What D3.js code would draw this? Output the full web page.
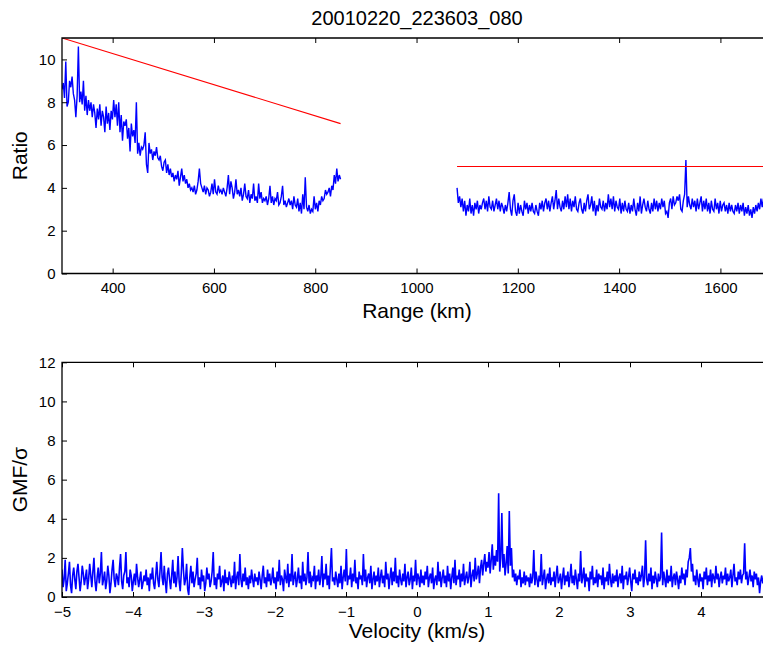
<!DOCTYPE html>
<html>
<head>
<meta charset="utf-8">
<script src="https://cdn.jsdelivr.net/npm/d3@7"></script>
<style>
  html, body { margin: 0; padding: 0; background: #fff; }
  svg { display: block; font-family: "Liberation Sans", Arial, Helvetica, sans-serif; }
</style>
</head>
<body>
<svg id="fig" width="763" height="648"></svg>
<script>
// ---- data ---------------------------------------------------------------
const chartTitle = "20010220_223603_080";

const rangeTicks = [400, 600, 800, 1000, 1200, 1400, 1600];
const ratioTicks = [0, 2, 4, 6, 8, 10];
const velocityTicks = [-5, -4, -3, -2, -1, 0, 1, 2, 3, 4];
const gmfTicks = [0, 2, 4, 6, 8, 10, 12];

// near-range ratio samples, evenly spaced from nearStart to nearEnd (km)
const nearStart = 300, nearEnd = 850;
const nearRatio = [
  8.6, 8.9, 8.2, 9.9, 7.8, 8.0, 9.0, 8.7, 9.2, 8.4, 8.1, 7.3, 8.3, 10.6, 8.0, 8.5, 7.9, 9.0, 7.6, 8.3, 7.4,
  8.1, 7.6, 8.0, 7.3, 7.9, 7.5, 6.8, 7.7, 7.2, 7.9, 6.9, 7.6, 7.3, 6.6, 7.8, 7.0, 7.5, 6.7, 7.6, 7.2,
  8.1, 7.3, 7.9, 6.9, 8.0, 6.6, 7.4, 6.2, 7.1, 6.9, 7.2, 6.3, 6.8, 5.7, 7.0, 6.4, 6.7, 6.1, 8.0, 5.6,
  6.1, 5.5, 5.9, 5.8, 6.0, 6.6, 5.1, 4.7, 6.1, 5.6, 5.8, 5.3, 5.7, 5.5, 5.9, 5.4, 5.3, 5.5, 5.0, 4.8,
  5.2, 5.3, 4.7, 5.1, 4.6, 4.9, 4.5, 4.7, 4.3, 4.6, 4.4, 4.8, 4.1, 4.5, 4.9, 4.3, 4.6, 4.2, 4.4, 4.0,
  4.2, 3.9, 4.0, 3.8, 4.1, 3.7, 3.9, 4.3, 4.9, 4.2, 4.0, 3.8, 4.1, 3.7, 4.0, 3.9, 3.6, 3.8, 4.2, 3.7,
  4.4, 3.8, 3.7, 4.1, 3.8, 3.9, 3.7, 4.0, 3.8, 3.6, 4.0, 4.6, 3.7, 4.3, 4.0, 3.5, 3.8, 4.4, 3.7, 3.9,
  3.6, 4.0, 3.4, 3.7, 4.2, 3.6, 3.5, 3.9, 3.3, 3.7, 3.5, 4.2, 3.4, 3.6, 3.3, 4.2, 3.5, 3.8, 3.3, 3.5,
  3.4, 3.6, 3.2, 3.5, 4.1, 3.3, 3.6, 3.2, 3.5, 3.4, 3.8, 3.2, 3.3, 3.6, 4.1, 3.2, 3.4, 3.1, 3.3, 3.5,
  3.2, 3.4, 3.0, 3.6, 3.2, 3.1, 3.5, 2.9, 3.3, 2.8, 3.7, 3.0, 4.5, 3.1, 2.9, 3.2, 2.8, 3.0, 2.9, 3.6,
  3.0, 3.3, 2.9, 3.4, 3.2, 3.6, 3.4, 3.5, 3.9, 3.7, 3.8, 4.0, 3.6, 4.1, 3.9, 4.6, 4.2, 4.9, 4.3, 4.6, 4.4
];

// far-range ratio samples, evenly spaced from farStart to farEnd (km)
const farStart = 1080, farEnd = 1690;
const farRatio = [
  4.0, 3.3, 3.6, 3.1, 3.5, 2.9, 3.4, 2.7, 3.2, 2.9, 3.5, 2.8, 3.2, 2.7, 3.3, 3.0, 3.4, 2.8, 3.2, 3.0,
  3.3, 3.5, 3.0, 3.4, 2.9, 3.6, 3.1, 3.0, 3.4, 2.9, 3.2, 3.5, 3.0, 3.4, 2.9, 3.3, 3.1, 2.8, 3.2, 2.9,
  3.3, 3.8, 3.0, 2.7, 3.4, 3.7, 2.9, 2.7, 3.3, 2.8, 3.2, 2.9, 2.7, 3.4, 3.0, 3.3, 2.8, 3.2, 2.9, 3.3,
  2.9, 2.8, 3.2, 2.9, 2.7, 3.3, 3.0, 3.4, 2.9, 3.3, 3.5, 3.0, 3.4, 2.9, 3.3, 3.6, 3.0, 3.4, 3.9, 3.0,
  3.5, 3.1, 2.9, 3.4, 3.0, 3.6, 3.1, 3.7, 3.0, 3.5, 2.9, 3.4, 3.1, 3.6, 3.0, 2.9, 3.3, 3.5, 3.0, 2.8,
  3.3, 2.9, 3.4, 3.7, 3.0, 3.2, 3.6, 2.9, 3.4, 2.7, 3.2, 2.9, 3.5, 3.1, 3.0, 3.4, 2.9, 3.3, 3.0, 3.7,
  3.1, 3.5, 3.0, 3.6, 2.9, 3.4, 3.1, 3.0, 3.5, 2.8, 3.3, 2.9, 3.4, 3.0, 2.9, 3.3, 2.8, 3.2, 2.9, 3.5,
  3.0, 2.7, 3.3, 2.9, 3.6, 2.8, 3.2, 3.5, 3.1, 2.9, 3.4, 3.0, 2.8, 3.3, 2.9, 3.5, 3.0, 3.4, 2.9, 3.3,
  3.0, 3.5, 3.1, 3.4, 2.8, 2.9, 2.6, 3.3, 3.5, 3.0, 3.6, 3.2, 3.3, 3.6, 3.4, 3.7, 3.0, 2.9, 3.4, 3.7,
  5.3, 3.1, 3.6, 3.2, 3.0, 3.5, 3.1, 3.4, 2.9, 3.5, 3.0, 3.3, 3.6, 2.9, 3.4, 3.0, 3.5, 2.9, 3.3, 2.8,
  3.4, 3.0, 2.9, 3.5, 3.0, 3.3, 2.8, 3.4, 2.9, 3.2, 3.3, 2.9, 3.2, 2.8, 3.3, 2.9, 3.2, 2.9, 2.8, 3.2,
  2.9, 3.3, 2.8, 3.2, 2.9, 3.3, 2.7, 3.1, 2.8, 3.2, 2.7, 3.0, 2.6, 3.1, 2.8, 3.2, 2.9, 3.3, 3.0, 3.5,
  3.1, 3.5, 3.2, 3.4
];

// detection thresholds (km, ratio)
const nearThresholdRange = [300, 850];
const nearThresholdLevel = [11, 7];
const farThresholdRange = [1080, 1690];
const farThresholdLevel = [5, 5];

// GMF / sigma spectrum, evenly spaced in velocity (km/s)
const velocityStart = -5, velocityStep = 0.015;
const gmfSigma = [
  1.4, 0.5, 0.9, 1.9, 0.3, 0.7, 1.2, 1.8, 0.6, 0.2, 1.1, 1.5, 0.9, 0.4, 1.3, 1.7, 1.0, 0.3, 0.8, 1.6,
  1.2, 0.6, 1.0, 1.4, 0.4, 0.9, 1.7, 1.1, 0.5, 1.3, 2.0, 0.8, 0.3, 1.0, 1.5, 0.7, 1.2, 2.3, 0.6, 0.9,
  1.3, 0.4, 0.8, 1.6, 1.1, 0.2, 0.7, 1.4, 1.9, 0.9, 0.5, 1.2, 1.0, 0.6, 1.5, 2.2, 0.8, 0.4, 1.1, 1.3,
  2.3, 0.7, 1.0, 0.5, 1.4, 1.1, 0.3, 0.8, 1.2, 0.6, 1.7, 1.0, 0.5, 0.9, 1.3, 0.4, 0.7, 1.1, 0.8, 1.4,
  0.6, 1.0, 0.3, 1.2, 0.9, 1.5, 0.7, 0.4, 1.1, 1.8, 0.9, 0.5, 1.3, 2.3, 1.0, 0.6, 1.6, 0.8, 0.2, 1.2,
  1.5, 0.9, 0.4, 1.1, 1.9, 0.7, 1.3, 0.5, 1.0, 2.1, 0.8, 0.3, 1.2, 2.5, 1.4, 0.6, 0.9, 1.7, 0.4, 0.1,
  1.0, 1.6, 0.7, 1.3, 0.5, 0.9, 1.2, 2.0, 0.6, 1.0, 0.4, 1.4, 0.8, 1.1, 0.3, 0.7, 1.5, 0.9, 1.2, 0.5,
  0.8, 1.3, 2.3, 0.6, 1.0, 0.4, 1.2, 0.9, 1.6, 0.5, 0.8, 1.1, 0.3, 1.4, 0.7, 1.0, 0.6, 1.3, 0.9, 0.5,
  1.1, 0.7, 1.8, 0.4, 1.0, 1.3, 0.6, 2.2, 0.9, 0.5, 1.2, 0.8, 1.5, 0.6, 1.0, 0.4, 1.1, 0.7, 1.4, 0.9,
  0.5, 1.2, 0.8, 1.0, 0.6, 1.3, 0.9, 0.4, 1.1, 1.6, 0.7, 1.0, 0.5, 1.4, 0.8, 1.2, 0.6, 0.9, 1.5, 0.7,
  1.0, 0.4, 1.3, 0.8, 1.9, 0.6, 1.1, 0.9, 0.3, 1.4, 1.0, 0.7, 1.7, 0.5, 1.2, 0.8, 2.2, 0.6, 1.0, 1.3,
  0.5, 0.9, 1.5, 0.7, 1.1, 0.4, 1.8, 0.8, 1.2, 0.6, 1.0, 2.3, 0.7, 1.3, 0.5, 1.0, 0.9, 1.6, 0.4, 1.1,
  0.8, 1.4, 0.6, 1.0, 2.1, 0.5, 1.2, 0.9, 1.7, 0.6, 1.1, 0.4, 1.5, 2.5, 0.8, 1.0, 0.6, 1.3, 0.9, 0.5,
  1.2, 0.7, 1.6, 0.4, 1.0, 1.4, 0.8, 2.45, 0.6, 1.1, 0.9, 1.5, 0.5, 1.2, 0.8, 1.9, 0.7, 1.0, 0.4, 1.3,
  0.9, 1.1, 0.6, 2.2, 0.8, 1.4, 0.5, 1.0, 1.2, 0.7, 1.6, 0.4, 0.9, 1.3, 0.6, 1.1, 0.8, 1.5, 0.5, 1.0,
  1.4, 0.7, 1.1, 0.5, 1.8, 0.9, 1.2, 0.4, 1.0, 1.5, 0.6, 1.3, 0.8, 2.0, 0.7, 1.1, 0.5, 1.4, 0.9, 0.6,
  1.2, 0.8, 1.7, 0.5, 1.0, 1.3, 0.6, 0.9, 1.5, 0.4, 1.1, 0.8, 1.9, 0.6, 1.2, 1.0, 0.5, 1.4, 0.7, 1.1,
  0.6, 1.3, 0.9, 1.6, 0.5, 1.0, 1.2, 0.7, 1.5, 0.4, 0.9, 1.1, 0.6, 1.8, 0.8, 1.3, 0.5, 1.0, 1.4, 0.7,
  1.1, 0.5, 1.6, 0.8, 1.2, 0.4, 1.0, 1.5, 0.7, 1.9, 0.6, 1.1, 0.9, 1.4, 0.5, 1.2, 0.8, 1.7, 0.6, 1.0,
  1.3, 0.7, 1.0, 1.8, 0.5, 1.1, 1.4, 0.8, 2.0, 0.9, 1.2, 1.6, 0.7, 1.5, 1.9, 1.1, 1.7, 2.2, 1.3, 1.8,
  1.5, 2.3, 1.2, 1.9, 2.7, 1.4, 2.1, 1.6, 2.4, 1.8, 5.3, 1.3, 2.0, 4.3, 1.5, 2.2, 1.1, 1.7, 2.6, 1.2,
  4.4, 1.6, 2.5, 1.0, 1.4, 0.8, 1.2, 0.6, 1.1, 0.9, 1.4, 0.5, 1.0, 0.7, 1.3, 0.6, 1.1, 0.8, 1.0, 0.5,
  1.2, 0.7, 1.0, 2.4, 0.6, 1.3, 0.9, 0.5, 1.1, 0.8, 2.2, 0.6, 1.0, 1.4, 0.4, 0.9, 1.2, 0.7, 1.5, 0.6,
  1.0, 0.8, 1.3, 0.5, 1.1, 1.6, 0.7, 0.9, 1.2, 0.4, 1.0, 1.5, 0.6, 1.1, 0.8, 1.3, 0.5, 1.0, 1.7, 0.7,
  1.1, 0.6, 1.4, 0.9, 0.4, 1.2, 0.8, 2.35, 0.7, 1.0, 1.5, 0.5, 1.2, 0.8, 1.0, 0.3, 1.3, 0.9, 1.6, 0.6,
  1.0, 0.7, 1.4, 0.5, 1.2, 0.9, 1.1, 0.6, 1.5, 0.4, 1.0, 0.8, 1.3, 0.6, 1.7, 0.9, 0.5, 1.2, 0.7, 1.1,
  0.8, 1.4, 0.5, 1.0, 1.2, 0.7, 1.6, 0.4, 1.1, 0.9, 1.3, 0.6, 1.0, 1.5, 0.8, 0.3, 1.2, 0.9, 1.4, 0.7,
  1.0, 0.6, 1.3, 0.8, 1.1, 1.6, 0.5, 1.0, 2.9, 0.9, 0.6, 1.2, 0.8, 1.5, 0.4, 1.1, 0.7, 1.3, 0.9, 0.5,
  1.2, 0.8, 1.0, 3.3, 0.6, 1.3, 0.9, 0.5, 1.4, 0.7, 1.1, 0.8, 1.6, 0.5, 1.0, 1.2, 0.6, 1.3, 0.9, 0.4,
  1.1, 0.7, 1.5, 0.9, 1.2, 0.6, 1.4, 1.0, 1.8, 2.0, 2.5, 1.3, 1.7, 0.8, 1.1, 0.6, 1.4, 0.9, 0.5, 1.2,
  0.8, 1.0, 0.4, 1.3, 0.9, 1.5, 0.6, 1.1, 0.8, 1.4, 0.5, 1.2, 1.0, 0.7, 1.6, 0.9, 1.2, 0.5, 1.0, 1.3,
  0.7, 1.1, 0.9, 1.5, 0.6, 1.2, 0.8, 1.0, 1.4, 0.5, 1.1, 1.7, 0.8, 1.0, 0.6, 1.3, 0.9, 1.4, 0.7, 1.1,
  1.2, 2.75, 0.9, 1.3, 0.6, 1.0, 1.4, 0.8, 1.1, 0.5, 1.3, 0.9, 1.2, 0.6, 1.0, 0.2, 0.8, 1.1, 0.7, 1.0,
  0.9, 1.2
];

// ---- layout -------------------------------------------------------------
const svg = d3.select("#fig");
const plotLeft = 62, plotRight = 766;
const top1 = 38, bottom1 = 273.5;
const top2 = 362.3, bottom2 = 597;
const fontTick = 15, fontLabel = 21;
const fontStack = "\"Liberation Sans\", Arial, Helvetica, sans-serif";

svg.append("defs").selectAll("clipPath")
  .data([["clipTop", top1, bottom1], ["clipBottom", top2, bottom2]])
  .join("clipPath").attr("id", d => d[0])
  .append("rect")
  .attr("x", plotLeft).attr("y", d => d[1])
  .attr("width", plotRight - plotLeft).attr("height", d => d[2] - d[1]);

// scales
const xRange = d3.scaleLinear().domain([300, 1690]).range([plotLeft, plotRight]);
const yRatio = d3.scaleLinear().domain([0, 11]).range([bottom1, top1]);
const xVel = d3.scaleLinear().domain([-5, -5 + (plotRight - plotLeft) / 71]).range([plotLeft, plotRight]);
const yGmf = d3.scaleLinear().domain([0, 12]).range([bottom2, top2]);

const tickFmt = d3.format("d");

function styleAxis(g) {
  g.select(".domain").remove();
  g.selectAll(".tick line").attr("stroke", "#000").attr("stroke-width", 1);
  g.selectAll(".tick text").attr("fill", "#000").attr("font-size", fontTick)
    .attr("font-family", fontStack);
}

function drawAxes(xs, ys, xt, yt, top, bottom) {
  // bottom x axis, ticks pointing inward
  svg.append("g").attr("transform", `translate(0,${bottom})`)
    .call(d3.axisBottom(xs).tickValues(xt).tickFormat(tickFmt)
      .tickSizeInner(-5).tickSizeOuter(0).tickPadding(9))
    .call(styleAxis);
  // matching ticks along the top edge
  svg.append("g").attr("transform", `translate(0,${top})`)
    .call(d3.axisTop(xs).tickValues(xt).tickSizeInner(-5).tickSizeOuter(0).tickFormat(""))
    .call(styleAxis);
  // left y axis, ticks pointing inward
  svg.append("g").attr("transform", `translate(${plotLeft},0)`)
    .call(d3.axisLeft(ys).tickValues(yt).tickFormat(tickFmt)
      .tickSizeInner(-5).tickSizeOuter(0).tickPadding(6.5))
    .call(styleAxis);
  // frame
  svg.append("path")
    .attr("d", `M${plotRight},${top}H${plotLeft}V${bottom}H${plotRight}`)
    .attr("fill", "none").attr("stroke", "#000").attr("stroke-width", 1.3);
}

// ---- top panel: ratio vs range ------------------------------------------
const nearX = d3.scaleLinear().domain([0, nearRatio.length - 1]).range([nearStart, nearEnd]);
const farX = d3.scaleLinear().domain([0, farRatio.length - 1]).range([farStart, farEnd]);

const lineRatio = d3.line().x(d => xRange(d[0])).y(d => yRatio(d[1]));
const gTop = svg.append("g").attr("clip-path", "url(#clipTop)");

gTop.append("path")
  .datum(nearRatio.map((v, i) => [nearX(i), v]))
  .attr("d", lineRatio).attr("fill", "none").attr("stroke", "#0000ff").attr("stroke-width", 1.4);
gTop.append("path")
  .datum(farRatio.map((v, i) => [farX(i), v]))
  .attr("d", lineRatio).attr("fill", "none").attr("stroke", "#0000ff").attr("stroke-width", 1.4);
gTop.append("path")
  .datum(nearThresholdRange.map((r, i) => [r, nearThresholdLevel[i]]))
  .attr("d", lineRatio).attr("fill", "none").attr("stroke", "#ff0000").attr("stroke-width", 1.1);
gTop.append("path")
  .datum(farThresholdRange.map((r, i) => [r, farThresholdLevel[i]]))
  .attr("d", lineRatio).attr("fill", "none").attr("stroke", "#ff0000").attr("stroke-width", 1.1);

drawAxes(xRange, yRatio, rangeTicks, ratioTicks, top1, bottom1);

// ---- bottom panel: GMF/sigma vs velocity --------------------------------
const lineGmf = d3.line()
  .x((d, i) => xVel(velocityStart + i * velocityStep))
  .y(d => yGmf(d));
svg.append("g").attr("clip-path", "url(#clipBottom)")
  .append("path").datum(gmfSigma)
  .attr("d", lineGmf).attr("fill", "none").attr("stroke", "#0000ff").attr("stroke-width", 1.6);

drawAxes(xVel, yGmf, velocityTicks, gmfTicks, top2, bottom2);

// ---- text ---------------------------------------------------------------
const labelX = 417;
svg.append("text").attr("x", labelX).attr("y", 25).attr("text-anchor", "middle")
  .attr("font-size", 20).text(chartTitle);
svg.append("text").attr("x", labelX).attr("y", 318).attr("text-anchor", "middle")
  .attr("font-size", fontLabel).text("Range (km)");
svg.append("text").attr("x", labelX).attr("y", 638).attr("text-anchor", "middle")
  .attr("font-size", fontLabel).text("Velocity (km/s)");
svg.append("text").attr("transform", `translate(27,${(top1 + bottom1) / 2}) rotate(-90)`)
  .attr("text-anchor", "middle").attr("font-size", fontLabel).text("Ratio");
svg.append("text").attr("transform", `translate(27,${(top2 + bottom2) / 2}) rotate(-90)`)
  .attr("text-anchor", "middle").attr("font-size", fontLabel).text("GMF/σ");
</script>
</body>
</html>
